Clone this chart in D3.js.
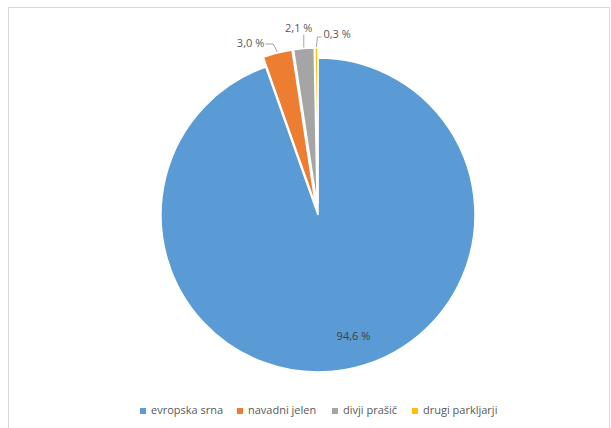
<!DOCTYPE html>
<html>
<head>
<meta charset="utf-8">
<script src="https://cdn.jsdelivr.net/npm/d3@7"></script>
<style>
  body { margin: 0; background: #fff; }
  text { font-family: "Open Sans", sans-serif; }
</style>
</head>
<body>
<div id="chart"></div>
<script>
// data
var categories = ["evropska srna", "navadni jelen", "divji prašič", "drugi parkljarji"]
var values = [94.6, 3.0, 2.1, 0.3]
var labels = ["94,6 %", "3,0 %", "2,1 %", "0,3 %"]
var colors = ["#5B9BD5", "#ED7D31", "#A5A5A5", "#FFC000"]

var width = 611, height = 428
var cx = 318, cy = 215, radius = 157
var explode = [0, 10, 10, 10]

// leader elbow / text offsets for outside labels (relative to leader start)
var labelLayout = [
  null,
  {ex: -4, ey: -8, tx: -13, ty: -8, anchor: "end", hx: -8},
  {ex: 0, ey: -13, tx: -5, ty: -19, anchor: "middle", hx: 0},
  {ex: 1, ey: -10, tx: 7, ty: -12, anchor: "start", hx: 4}
]

var svg = d3.select("#chart").append("svg")
  .attr("width", width).attr("height", height)

// chart frame (clipped by window at right/bottom)
svg.append("rect")
  .attr("x", 8.5).attr("y", 7.5)
  .attr("width", 601).attr("height", 440)
  .attr("fill", "none").attr("stroke", "#d9d9d9").attr("stroke-width", 1)

var pie = d3.pie().sort(null).value(function(d) { return d })
var arcs = pie(values)
var arc = d3.arc().innerRadius(0).outerRadius(radius)

var g = svg.append("g").attr("transform", "translate(" + cx + "," + cy + ")")

function mid(d) { return (d.startAngle + d.endAngle) / 2 }

g.selectAll("path")
  .data(arcs)
  .enter()
  .append("path")
  .attr("d", arc)
  .attr("fill", function(d, i) { return colors[i] })
  .attr("stroke", "white")
  .attr("stroke-width", 1.5)
  .attr("transform", function(d, i) {
    var a = mid(d)
    return "translate(" + (Math.sin(a) * explode[i]) + "," + (-Math.cos(a) * explode[i]) + ")"
  })

// inside label for the big slice
var inner = d3.arc().innerRadius(127).outerRadius(127)
g.append("text")
  .attr("transform", function() {
    var c = inner.centroid(arcs[0])
    return "translate(" + (c[0] + 14) + "," + (c[1] - 3) + ")"
  })
  .attr("text-anchor", "middle")
  .attr("dominant-baseline", "middle")
  .style("font-size", "11px")
  .attr("fill", "#404040")
  .text(labels[0])

// outside labels with leader lines
arcs.forEach(function(d, i) {
  var L = labelLayout[i]
  if (!L) return
  var a = mid(d)
  var r = radius + explode[i] + 1
  var sx = Math.sin(a) * r, sy = -Math.cos(a) * r
  var pts = [[sx, sy], [sx + L.ex, sy + L.ey]]
  if (L.hx !== 0) pts.push([sx + L.ex + L.hx, sy + L.ey])
  g.append("path")
    .attr("d", d3.line()(pts))
    .attr("fill", "none")
    .attr("stroke", "#a6a6a6")
    .attr("stroke-width", 1)
  g.append("text")
    .attr("x", sx + L.tx).attr("y", sy + L.ty)
    .attr("text-anchor", L.anchor)
    .attr("dominant-baseline", "middle")
    .style("font-size", "11px")
    .attr("fill", "#595959")
    .text(labels[i])
})

// legend
var legendX = [140, 237, 332, 412]
var legend = svg.append("g").attr("transform", "translate(0,411)")
categories.forEach(function(c, i) {
  legend.append("rect")
    .attr("x", legendX[i]).attr("y", -3)
    .attr("width", 6).attr("height", 6)
    .attr("fill", colors[i])
  legend.append("text")
    .attr("x", legendX[i] + 11).attr("y", 0)
    .attr("dominant-baseline", "middle")
    .style("font-size", "11px")
    .attr("fill", "#595959")
    .text(c)
})
</script>
</body>
</html>
